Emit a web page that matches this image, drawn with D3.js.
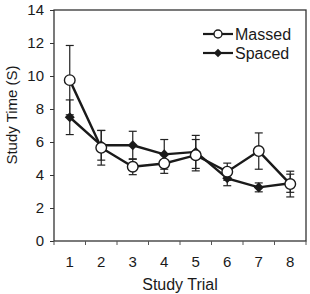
<!DOCTYPE html>
<html>
<head>
<meta charset="utf-8">
<script src="https://cdn.jsdelivr.net/npm/d3@7"></script>
<style>
  body { margin: 0; background: #fff; }
  svg { display: block; font-family: "Liberation Sans", Arial, sans-serif; }
</style>
</head>
<body>
<div id="chart"></div>
<script>
// Data
const trials = [1, 2, 3, 4, 5, 6, 7, 8];
const massedMean = [9.75, 5.65, 4.5, 4.7, 5.2, 4.2, 5.45, 3.45];
const massedErr = [2.1, 1.05, 0.48, 0.6, 0.95, 0.52, 1.1, 0.78];
const spacedMean = [7.5, 5.8, 5.8, 5.25, 5.4, 3.8, 3.25, 3.5];
const spacedErr = [1.05, 0.9, 0.85, 0.9, 1.0, 0.45, 0.27, 0.55];
const yTicks = [0, 2, 4, 6, 8, 10, 12, 14];

const width = 310, height = 294;
const margin = { top: 10, right: 4, bottom: 53, left: 54 };

const svg = d3.select("#chart").append("svg")
    .attr("width", width)
    .attr("height", height);

const x = d3.scaleBand()
    .domain(trials)
    .range([margin.left, width - margin.right]);

const y = d3.scaleLinear()
    .domain([0, 14])
    .range([height - margin.bottom, margin.top]);

const ink = "#1a1a1a";

// Frame
svg.append("rect")
    .attr("x", margin.left)
    .attr("y", margin.top)
    .attr("width", width - margin.right - margin.left)
    .attr("height", height - margin.bottom - margin.top)
    .attr("fill", "none")
    .attr("stroke", "#333")
    .attr("stroke-width", 1.3);

// Y axis
const yAxis = svg.append("g")
    .attr("transform", `translate(${margin.left},0)`)
    .call(d3.axisLeft(y).tickValues(yTicks).tickSize(4).tickPadding(6));
yAxis.select(".domain").remove();
yAxis.selectAll("line").attr("stroke", "#333");
yAxis.selectAll("text")
    .attr("font-size", 15)
    .attr("fill", ink)
    .attr("font-family", "Liberation Sans, Arial, sans-serif");

// X axis: ticks at band boundaries, labels at band centres
const xAxisG = svg.append("g")
    .attr("transform", `translate(0,${height - margin.bottom})`);
const bounds = d3.range(trials.length + 1).map(i => margin.left + i * x.step());
xAxisG.selectAll("line.tk")
    .data(bounds)
    .join("line")
    .attr("class", "tk")
    .attr("x1", d => d).attr("x2", d => d)
    .attr("y1", 0).attr("y2", 4)
    .attr("stroke", "#555");
xAxisG.selectAll("text")
    .data(trials)
    .join("text")
    .attr("x", d => x(d) + x.bandwidth() / 2)
    .attr("y", 26)
    .attr("text-anchor", "middle")
    .attr("font-size", 15)
    .attr("fill", ink)
    .text(d => d);

// Axis titles
svg.append("text")
    .attr("x", (margin.left + width - margin.right) / 2)
    .attr("y", 290)
    .attr("text-anchor", "middle")
    .attr("font-size", 16)
    .attr("fill", ink)
    .text("Study Trial");

svg.append("text")
    .attr("transform", `translate(17,115) rotate(-90)`)
    .attr("text-anchor", "middle")
    .attr("font-size", 15)
    .attr("fill", ink)
    .text("Study Time (S)");

const cx = d => x(d) + x.bandwidth() / 2;

function drawErrors(means, errs) {
    const g = svg.append("g").attr("stroke", "#222").attr("stroke-width", 1.2);
    trials.forEach((t, i) => {
        const hi = y(means[i] + errs[i]), lo = y(means[i] - errs[i]);
        g.append("line").attr("x1", cx(t)).attr("x2", cx(t)).attr("y1", hi).attr("y2", lo);
        g.append("line").attr("x1", cx(t) - 4).attr("x2", cx(t) + 4).attr("y1", hi).attr("y2", hi);
        g.append("line").attr("x1", cx(t) - 4).attr("x2", cx(t) + 4).attr("y1", lo).attr("y2", lo);
    });
}

drawErrors(massedMean, massedErr);
drawErrors(spacedMean, spacedErr);

const line = d3.line().x((d, i) => cx(trials[i])).y(d => y(d));

svg.append("path")
    .datum(spacedMean)
    .attr("d", line)
    .attr("fill", "none")
    .attr("stroke", ink)
    .attr("stroke-width", 2.4);

svg.append("path")
    .datum(massedMean)
    .attr("d", line)
    .attr("fill", "none")
    .attr("stroke", ink)
    .attr("stroke-width", 2.4);

const diamond = d3.symbol().type(d3.symbolDiamond2).size(64);

svg.selectAll("path.spaced")
    .data(spacedMean)
    .join("path")
    .attr("class", "spaced")
    .attr("d", diamond)
    .attr("transform", (d, i) => `translate(${cx(trials[i])},${y(d)})`)
    .attr("fill", ink);

svg.selectAll("circle.massed")
    .data(massedMean)
    .join("circle")
    .attr("class", "massed")
    .attr("cx", (d, i) => cx(trials[i]))
    .attr("cy", d => y(d))
    .attr("r", 5.3)
    .attr("fill", "#fff")
    .attr("stroke", ink)
    .attr("stroke-width", 1.4);

// Legend
const legend = svg.append("g");
const legendItems = [
    { name: "Massed", y: 34, marker: "circle" },
    { name: "Spaced", y: 53, marker: "diamond" }
];
legendItems.forEach(it => {
    legend.append("line")
        .attr("x1", 203).attr("x2", 233)
        .attr("y1", it.y).attr("y2", it.y)
        .attr("stroke", ink).attr("stroke-width", 2.2);
    if (it.marker === "circle") {
        legend.append("circle")
            .attr("cx", 218).attr("cy", it.y).attr("r", 4)
            .attr("fill", "#fff").attr("stroke", ink).attr("stroke-width", 1.4);
    } else {
        legend.append("path")
            .attr("d", d3.symbol().type(d3.symbolDiamond2).size(45))
            .attr("transform", `translate(218,${it.y})`)
            .attr("fill", ink);
    }
    legend.append("text")
        .attr("x", 235).attr("y", it.y + 6)
        .attr("font-size", 16)
        .attr("fill", ink)
        .text(it.name);
});
</script>
</body>
</html>
